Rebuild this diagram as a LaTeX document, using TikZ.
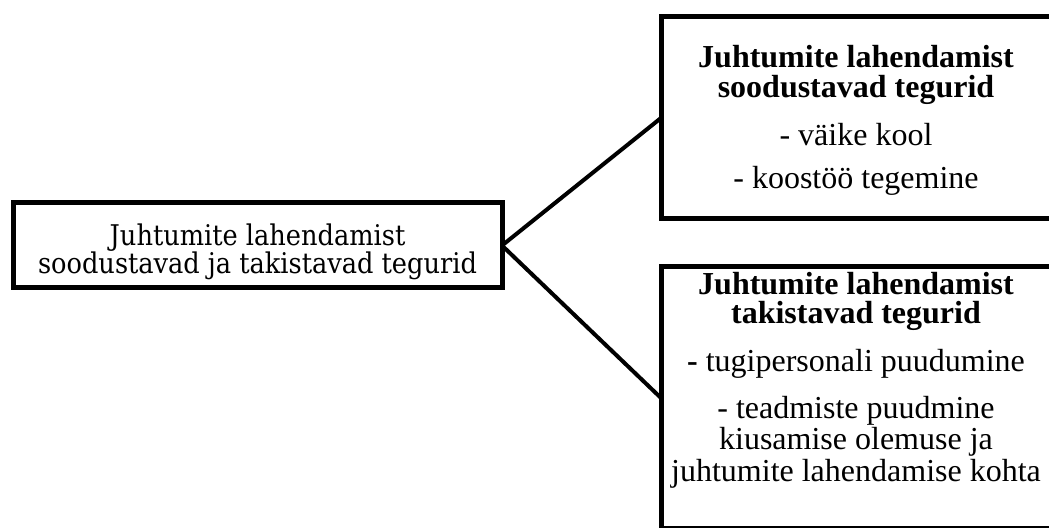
\documentclass[tikz,border=0pt]{standalone}
\usepackage{fontspec}
\setmainfont{Liberation Serif}
\newfontfamily\vasakfont{DejaVu Serif Condensed}
\usetikzlibrary{positioning}
\tikzset{%
   kast/.style={rectangle, draw=black, line width=2.5pt, inner sep=0mm, outer sep=0mm},
   sisu/.style={align=center, inner sep=0mm, anchor=north, font=\fontsize{16}{14}\selectfont},
   haru/.style={line width=2pt},
}

\begin{document}
\begin{tikzpicture}[x=0.5pt, y=-0.5pt]
   \useasboundingbox (0,0) rectangle (1049,528);
   \clip (0,0) rectangle (1049,528);
   \node[kast, minimum width=244.5pt, minimum height=42.5pt] (k0) at (257.5,245.5) {};
   \node[kast, minimum width=219.5pt, minimum height=101pt] (k1) at (880.5,118) {};
   \node[kast, minimum width=219.5pt, minimum height=131pt] (k2) at (880.5,398) {};
   \node[sisu, font=\vasakfont\fontsize{14.25}{14}\selectfont] (s0) at (257.5,223.5)
         {Juhtumite lahendamist\\soodustavad ja takistavad tegurid};
   \node[sisu] (s1) at (856,45) {\textbf{Juhtumite lahendamist}\\[1pt]
         \textbf{soodustavad tegurid}\\[8.5pt]
         - väike kool\\[7.5pt]
         - koostöö tegemine};
   \node[sisu] (s2) at (856,272) {\textbf{Juhtumite lahendamist}\\[0.5pt]
         \textbf{takistavad tegurid}\\[8.5pt]
         \textbf{-} tugipersonali puudumine\\[8pt]
         - teadmiste puudmine\\
         kiusamise olemuse ja\\
         juhtumite lahendamise kohta};
   \draw[haru] (k0.east) -- (k1.west);
   \draw[haru] (k0.east) -- (k2.west);
\end{tikzpicture}
\end{document}
